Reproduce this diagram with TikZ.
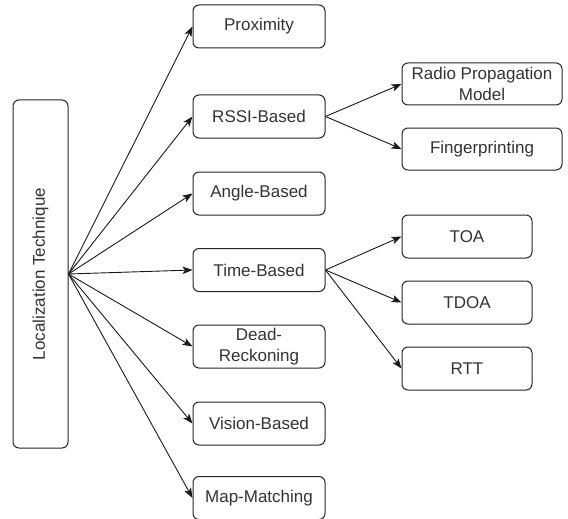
\documentclass[tikz,border=0pt]{standalone}
\usepackage{fontspec}
\setmainfont{Liberation Sans}
\usetikzlibrary{arrows.meta}
\begin{document}
\begin{tikzpicture}[x=1pt,y=-1pt,
  box/.style={draw=black!85, line width=1pt, rounded corners=6pt,
    fill=white, text=black!80, align=center, inner sep=1pt,
    font=\fontsize{17}{21}\selectfont},
  midbox/.style={box, minimum width=132pt, minimum height=43pt},
  widebox/.style={box, minimum width=160pt, minimum height=42pt},
  narrowbox/.style={box, minimum width=130pt, minimum height=43pt},
  link/.style={draw=black!90, line width=0.9pt,
    -{Stealth[length=10pt,width=7.5pt,inset=2.5pt]}}]
\useasboundingbox (0,0) rectangle (568,519);

% root of the classification
\node[box, minimum width=55pt, minimum height=348pt] (root) at (40.5,274)
  {\rotatebox{90}{Localization Technique}};

% technique families
\node[midbox] (prox)   at (259,26.5)  {Proximity};
\node[midbox] (rssi)   at (259,116.5) {RSSI-Based};
\node[midbox] (angle)  at (259,193.5) {Angle-Based};
\node[midbox] (time)   at (259,270)   {Time-Based};
\node[midbox] (dead)   at (259,346.5) {Dead-\\Reckoning};
\node[midbox] (vision) at (259,423.5) {Vision-Based};
\node[midbox] (map)    at (259,498)   {Map-Matching};

% RSSI sub-methods
\node[widebox] (radio)  at (482,84)  {Radio Propagation\\Model};
\node[widebox] (finger) at (482,149) {Fingerprinting};

% time-based sub-methods
\node[narrowbox] (toa)  at (467,236.5) {TOA};
\node[narrowbox] (tdoa) at (467,302.5) {TDOA};
\node[narrowbox] (rtt)  at (467,368.5) {RTT};

% connectors
\foreach \t in {prox,rssi,angle,time,dead,vision,map}
  \draw[link] (root.east) -- (\t.west);
\foreach \t in {radio,finger}
  \draw[link] (rssi.east) -- (\t.west);
\foreach \t in {toa,tdoa,rtt}
  \draw[link] (time.east) -- (\t.west);
\end{tikzpicture}
\end{document}
